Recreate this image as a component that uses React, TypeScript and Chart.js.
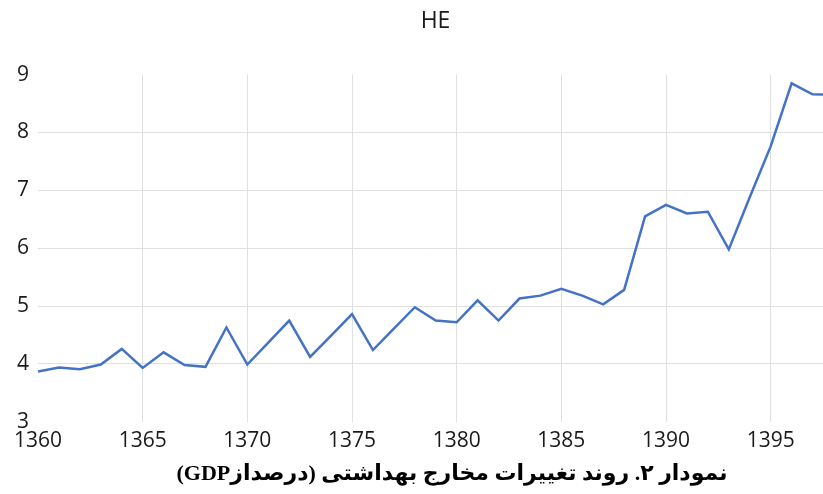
import React, { useEffect, useRef } from "react";
import { Chart, registerables } from "chart.js";

Chart.register(...registerables);

const years: number[] = [
  1360, 1361, 1362, 1363, 1364, 1365, 1366, 1367, 1368, 1369,
  1370, 1371, 1372, 1373, 1374, 1375, 1376, 1377, 1378, 1379,
  1380, 1381, 1382, 1383, 1384, 1385, 1386, 1387, 1388, 1389,
  1390, 1391, 1392, 1393, 1394, 1395, 1396, 1397, 1398,
];

const heValues: number[] = [
  3.87, 3.94, 3.91, 3.99, 4.26, 3.93, 4.2, 3.98, 3.95, 4.63,
  3.99, 4.37, 4.75, 4.12, 4.49, 4.86, 4.24, 4.61, 4.98, 4.75,
  4.72, 5.1, 4.75, 5.13, 5.18, 5.3, 5.18, 5.03, 5.28, 6.55,
  6.75, 6.6, 6.63, 5.98, 6.88, 7.76, 8.85, 8.66, 8.65,
];

const titleText = "HE";
const captionText = "نمودار ۲. روند تغییرات مخارج بهداشتی (درصدازGDP)";

const xMin = 1360;
const xMax = 1397.5;
const yMin = 3;
const yMax = 9;

const shiftTitle = {
  id: "shiftTitle",
  afterLayout(chart: any) {
    if (chart.titleBlock) {
      chart.titleBlock.left += 40;
    }
  },
};

export default function App() {
  const canvasRef = useRef<HTMLCanvasElement | null>(null);

  useEffect(() => {
    if (!canvasRef.current) return;
    const chart = new Chart(canvasRef.current, {
      type: "line",
      data: {
        datasets: [
          {
            label: titleText,
            data: years.map((y, i) => ({ x: y, y: heValues[i] })),
            borderColor: "#4472C4",
            borderWidth: 2.5,
            pointRadius: 0,
            tension: 0,
            fill: false,
          },
        ],
      },
      options: {
        animation: false,
        responsive: false,
        maintainAspectRatio: false,
        layout: { padding: { left: 8, right: 0, top: 0, bottom: 33 } },
        plugins: {
          legend: { display: false },
          tooltip: { enabled: false },
          title: {
            display: true,
            text: titleText,
            color: "#1a1a1a",
            font: { family: "'Open Sans', sans-serif", size: 23, weight: "normal" },
            padding: { top: 8, bottom: 39 },
          },
        },
        scales: {
          x: {
            type: "linear",
            min: xMin,
            max: xMax,
            border: { display: false },
            grid: {
              drawTicks: false,
              color: (ctx: any) =>
                ctx.tick && ctx.tick.value === xMin ? "rgba(0,0,0,0)" : "#e0e0e0",
              lineWidth: 1,
            },
            ticks: {
              stepSize: 5,
              includeBounds: false,
              autoSkip: false,
              maxRotation: 0,
              padding: 7,
              color: "#1a1a1a",
              font: { family: "'Open Sans', sans-serif", size: 21 },
              callback: (v: any) => String(v),
            },
          },
          y: {
            type: "linear",
            min: yMin,
            max: yMax,
            border: { display: false },
            grid: {
              drawTicks: false,
              color: (ctx: any) =>
                ctx.tick && (ctx.tick.value === yMin || ctx.tick.value === yMax)
                  ? "rgba(0,0,0,0)"
                  : "#e0e0e0",
              lineWidth: 1,
            },
            ticks: {
              stepSize: 1,
              padding: 9,
              color: "#1a1a1a",
              font: { family: "'Open Sans', sans-serif", size: 21 },
              callback: (v: any) => String(v),
            },
          },
        },
      },
      plugins: [shiftTitle],
    });
    return () => chart.destroy();
  }, []);

  return (
    <div style={{ position: "fixed", left: 0, top: 0, width: 823, height: 494, background: "#fff" }}>
      <canvas ref={canvasRef} width={823} height={494} style={{ display: "block" }} />
      <div
        dir="rtl"
        style={{
          position: "absolute",
          left: 452,
          top: 458,
          transform: "translateX(-50%)",
          whiteSpace: "nowrap",
          fontFamily: "'Liberation Serif', 'DejaVu Sans', serif",
          fontWeight: "bold",
          fontSize: 22,
          lineHeight: "30px",
          color: "#000",
        }}
      >
        {captionText}
      </div>
    </div>
  );
}
